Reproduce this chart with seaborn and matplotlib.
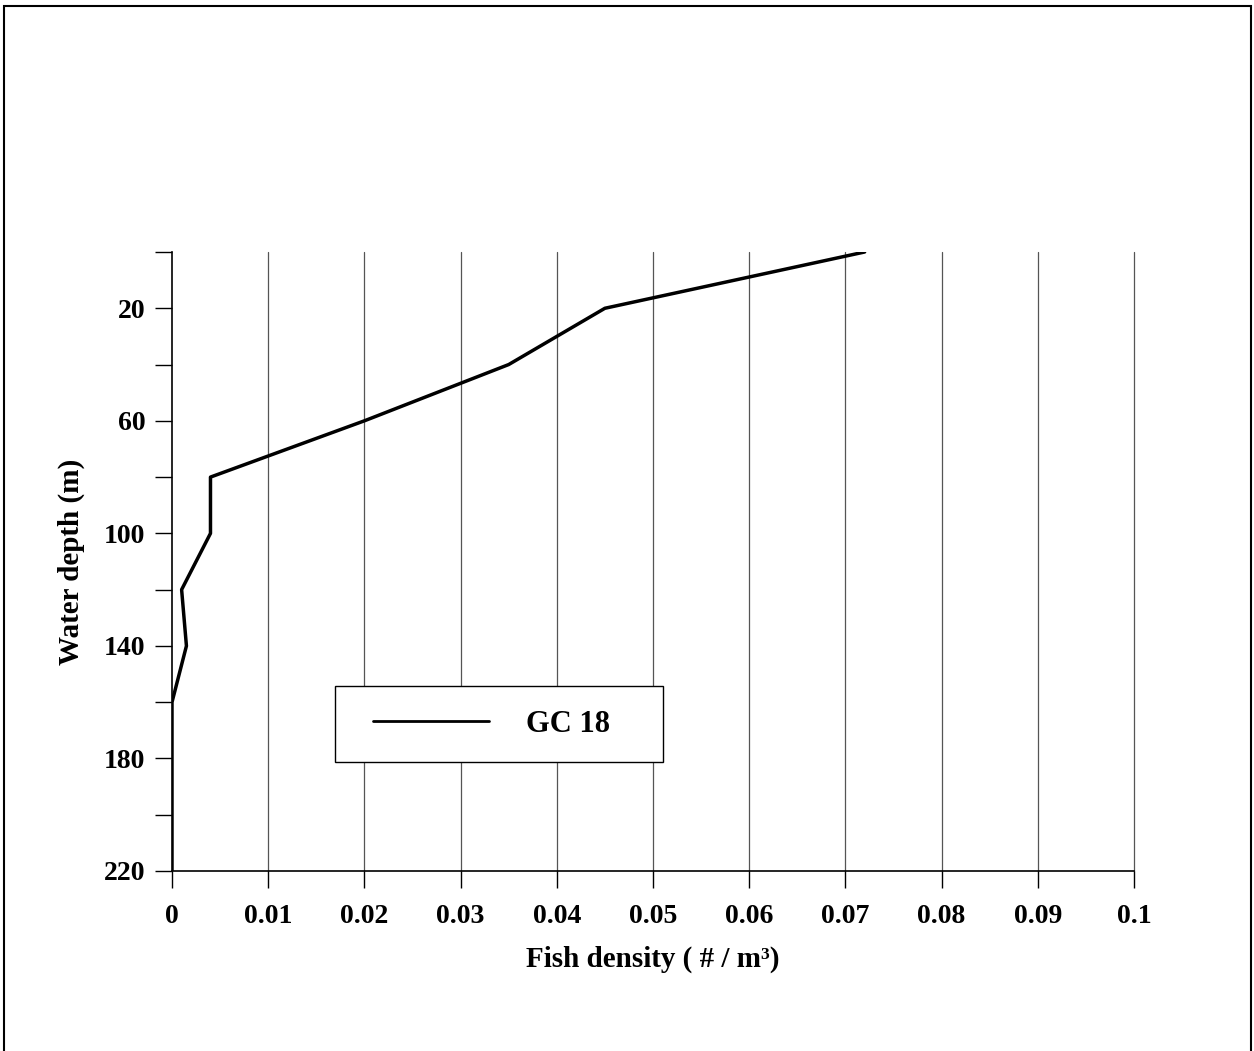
import matplotlib
matplotlib.use("Agg")
import matplotlib.pyplot as plt
import seaborn as sns
import pandas as pd
from matplotlib.patches import Rectangle
from matplotlib.ticker import FixedLocator

depth_m = [0, 20, 40, 60, 80, 100, 120, 140, 160, 180, 200, 220]
fish_density = [0.072, 0.045, 0.035, 0.020, 0.004, 0.004, 0.001, 0.0015, 0.0, 0.0, 0.0, 0.0]
series_name = "GC 18"
x_ticks = [0, 0.01, 0.02, 0.03, 0.04, 0.05, 0.06, 0.07, 0.08, 0.09, 0.1]
x_tick_labels = ["0", "0.01", "0.02", "0.03", "0.04", "0.05", "0.06", "0.07", "0.08", "0.09", "0.1"]
y_major = [20, 60, 100, 140, 180, 220]
y_minor = [0, 40, 80, 120, 160, 200]

sns.set_theme(style="white")
plt.rcParams['font.family'] = ['Liberation Serif', 'DejaVu Serif']
plt.rcParams['font.weight'] = 'bold'
plt.rcParams['text.color'] = 'black'
plt.rcParams['axes.labelcolor'] = 'black'
plt.rcParams['xtick.color'] = 'black'
plt.rcParams['ytick.color'] = 'black'

df = pd.DataFrame({"depth": depth_m, "density": fish_density, "series": series_name})

W, H = 1254, 1051
L, R, T, B = 172, 1134, 252, 871
fig = plt.figure(figsize=(W/100, H/100), dpi=100)
ax = fig.add_axes([L/W, 1-B/H, (R-L)/W, (B-T)/H])

def ax_x(px):
    return (px - L) / (R - L)

def ax_y(py):
    return 1 - (py - T) / (B - T)

sns.lineplot(data=df, x="density", y="depth", sort=False, estimator=None,
             color="black", linewidth=2.5, ax=ax, label=series_name)

ax.set_xlim(0, 0.1)
ax.set_ylim(220, 0)

for xv in x_ticks[1:]:
    ax.axvline(xv, color="#555555", linewidth=0.9, zorder=0, clip_on=False)

ax.set_xticks(x_ticks)
ax.set_xticklabels(x_tick_labels, fontsize=20, fontweight="bold")
ax.yaxis.set_major_locator(FixedLocator(y_major))
ax.yaxis.set_minor_locator(FixedLocator(y_minor))
ax.set_yticklabels([str(v) for v in y_major], fontsize=20, fontweight="bold")

ax.tick_params(axis="x", which="major", direction="out", length=12, width=1, pad=12, bottom=True)
ax.tick_params(axis="y", which="both", direction="out", length=12, width=1, pad=7, left=True)

for s in ["top", "right"]:
    ax.spines[s].set_visible(False)
for s in ["left", "bottom"]:
    ax.spines[s].set_color("black")
    ax.spines[s].set_linewidth(1.2)

ax.set_xlabel("Fish density ( # / m\u00b3)", fontsize=21, fontweight="bold", labelpad=12)
ax.set_ylabel("Water depth (m)", fontsize=21, fontweight="bold", labelpad=14)

# legend box frame
ax.add_patch(Rectangle((ax_x(335), ax_y(762)), ax_x(663) - ax_x(335), ax_y(686) - ax_y(762),
                       transform=ax.transAxes, fill=True, facecolor="white",
                       edgecolor="black", linewidth=1.0, zorder=3))
leg = ax.legend(loc="center left", bbox_to_anchor=(ax_x(373), ax_y(724)),
                frameon=False, fontsize=22, handlelength=3.8,
                handletextpad=1.2, borderpad=0, borderaxespad=0)
leg.set_zorder(4)
for t in leg.get_texts():
    t.set_fontweight("bold")
for l in leg.get_lines():
    l.set_linewidth(2.0)

fig.patches.append(Rectangle((4/W, -0.05), (1251-4)/W, 1.05 - 6/H,
                             transform=fig.transFigure, fill=False, edgecolor="black", linewidth=1.5))

fig.savefig("out.png", dpi=100, facecolor="white")
